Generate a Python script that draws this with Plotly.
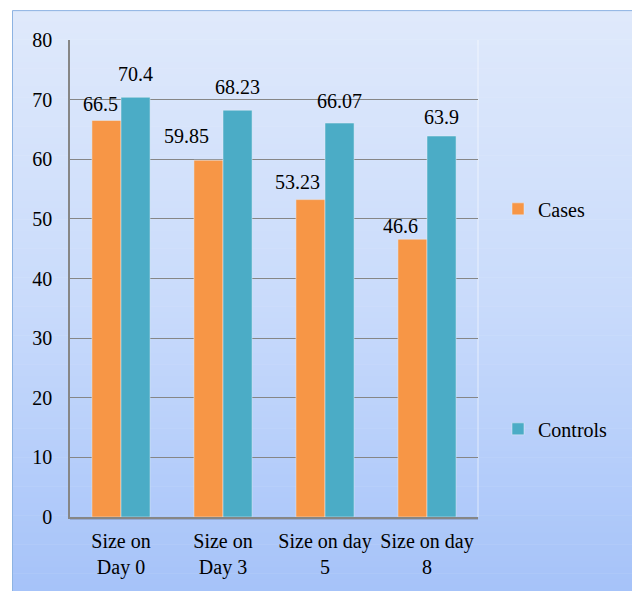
import plotly.graph_objects as go

# Wound size measurements (mean) per follow-up day
categories = ["Size on<br>Day 0", "Size on<br>Day 3", "Size on day<br>5", "Size on day<br>8"]
cases = [66.5, 59.85, 53.23, 46.6]
controls = [70.4, 68.23, 66.07, 63.9]
y_ticks = [0, 10, 20, 30, 40, 50, 60, 70, 80]

# value-label nudges in pixels (dx, lift above bar top)
cases_label_dx = [-6, -22, -13, -12]
cases_label_lift = [8, 16, 10, 5]
controls_label_dx = [0, 0, 0, 0]
controls_label_lift = [15, 15, 14, 11]

W, H = 632, 591
M_L, M_R, M_T, M_B = 70, 154, 40, 72
PW, PH = W - M_L - M_R, H - M_T - M_B
BARGAP = 0.43
HALF_OFF = PW / len(categories) * (1 - BARGAP) / 4  # centre of each bar vs category centre

FONT = "Liberation Serif"
ORANGE = "#F79646"
TEAL = "#4BACC6"
GRID = "#868686"


def px_x(p):
    return (p - M_L) / PW


def px_y(p):
    return (H - M_B - p) / PH


def lerp_color(c0, c1, t):
    return "rgb(%d,%d,%d)" % tuple(round(a + (b - a) * t) for a, b in zip(c0, c1))


# vertical gradient behind the whole chart, built from thin strips
TOP, MID, BOT = (223, 233, 251), (201, 219, 251), (166, 195, 249)
bg_shapes = []
y0, y1 = 10, H + 2
n = 100
step = (y1 - y0) / n
for i in range(n):
    t = i / (n - 1)
    col = lerp_color(TOP, MID, t * 2) if t < 0.5 else lerp_color(MID, BOT, (t - 0.5) * 2)
    top = y0 + i * step
    bg_shapes.append(dict(
        type="rect", xref="paper", yref="paper", layer="below",
        x0=px_x(12), x1=px_x(W + 20), y0=px_y(top + step + 0.6), y1=px_y(top),
        fillcolor=col, line=dict(width=0),
    ))

label_font = dict(family=FONT, size=20, color="#000")

fig = go.Figure()
fig.add_trace(go.Bar(name="Cases", x=categories, y=cases, marker_color=ORANGE,
                     legendgroup="cases"))
fig.add_trace(go.Bar(name="Controls", x=categories, y=controls, marker_color=TEAL,
                     legendgroup="controls"))

# value labels sitting above each bar
annotations = []
for cat, v, dx, lift in zip(categories, cases, cases_label_dx, cases_label_lift):
    annotations.append(dict(x=cat, y=v, xref="x", yref="y", text=f"{v:g}", showarrow=False,
                            xanchor="center", yanchor="bottom", xshift=-HALF_OFF + dx,
                            yshift=lift - 5, font=label_font))
for cat, v, dx, lift in zip(categories, controls, controls_label_dx, controls_label_lift):
    annotations.append(dict(x=cat, y=v, xref="x", yref="y", text=f"{v:g}", showarrow=False,
                            xanchor="center", yanchor="bottom", xshift=HALF_OFF + dx,
                            yshift=lift - 5, font=label_font))

fig.update_layout(
    width=W, height=H,
    margin=dict(l=M_L, r=M_R, t=M_T, b=M_B),
    paper_bgcolor="white",
    plot_bgcolor="rgba(0,0,0,0)",
    barmode="group", bargap=BARGAP, bargroupgap=0,
    font=label_font,
    annotations=annotations,
    legend=dict(
        font=label_font,
        bgcolor="rgba(0,0,0,0)", xanchor="left", yanchor="top",
        x=px_x(498), y=px_y(190), itemwidth=30,
        traceorder="grouped", tracegroupgap=191,
    ),
    shapes=bg_shapes + [
        # outer chart frame
        dict(type="rect", xref="paper", yref="paper",
             x0=px_x(12.5), x1=px_x(W + 20), y0=px_y(H + 20), y1=px_y(10.5),
             line=dict(color="#8DB3E2", width=1), layer="below"),
        # soft right edge of the plot area
        dict(type="line", xref="paper", yref="paper", x0=1, x1=1, y0=0, y1=1,
             line=dict(color="rgba(255,255,255,0.6)", width=1), layer="below"),
        # shadow under the category axis
        dict(type="line", xref="paper", yref="paper", x0=0, x1=1,
             y0=px_y(H - M_B + 2), y1=px_y(H - M_B + 2),
             line=dict(color="rgba(90,100,130,0.3)", width=2), layer="below"),
    ],
)

fig.update_yaxes(
    range=[0, 80], tickvals=y_ticks, ticktext=[str(v) for v in y_ticks],
    showgrid=True, gridcolor=GRID, gridwidth=1,
    showline=True, linecolor=GRID, linewidth=1.5,
    zeroline=False, ticks="", ticklabelstandoff=12,
    tickfont=label_font,
)
fig.update_xaxes(
    showline=True, linecolor=GRID, linewidth=2, showgrid=False,
    ticks="", ticklabelstandoff=5, tickfont=label_font,
)

fig.write_html("out.html")
